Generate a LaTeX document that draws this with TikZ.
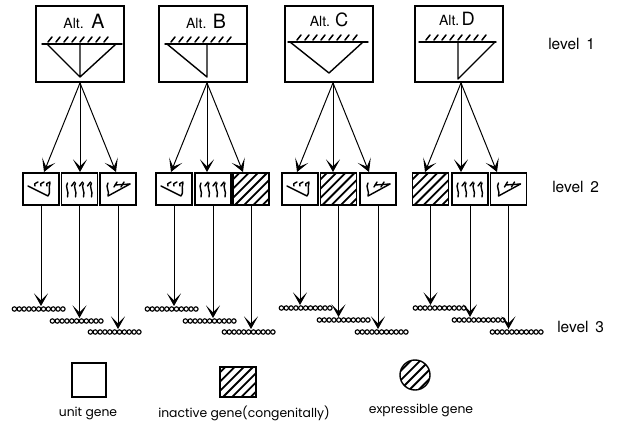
\documentclass[tikz,border=0pt]{standalone}
\usepackage{fontspec}
\setmainfont{TeX Gyre Heros}
\newfontfamily\legendfont{Poppins}
\usetikzlibrary{arrows.meta,calc}

\begin{document}
\begin{tikzpicture}[x=0.025cm,y=-0.025cm,
  altbox/.style={draw,line width=1.3pt,minimum width=2.2cm,minimum height=1.9cm,inner sep=0pt},
  genebox/.style={draw,line width=1.4pt,minimum width=0.9cm,minimum height=0.8cm,inner sep=0pt},
  hatched/.style={path picture={\foreach \k in {-12,...,12}{\draw[line width=1.3pt] ([xshift=\k*0.23cm]path picture bounding box.center) ++(-1.5cm,-1.5cm) -- ++(3cm,3cm);}}},
  arr/.style={line width=0.7pt,-{Stealth[length=9pt,width=10pt,inset=5pt]}},
  thin/.style={line width=1pt,line cap=round,line join=round},
  gl/.style={line width=1pt,line cap=round,line join=round},
  altlabel/.style={font=\fontsize{10}{11}\selectfont,inner sep=0pt},
  levellabel/.style={font=\fontsize{11}{13}\selectfont,anchor=west,inner sep=0pt},
  legendlabel/.style={font=\legendfont\fontsize{8.8}{10}\selectfont,inner sep=0pt},
  ticks/.pic={\foreach \t in {-32,-24,...,28}{\draw[line width=1.1pt,line cap=round] (\t,-1) -- ++(4,-5);}},
  glyphL/.pic={
    \draw[gl] (-13,-3) -- (7,7) .. controls (10,4) and (7,-1) .. (9,-6);
    \foreach \t in {-6,0,6}{\draw[gl] (\t,-3) .. controls (\t-1,-5) .. (\t+3,-7);}
  },
  glyphM/.pic={
    \foreach \t in {-12,-4,4,12}{\draw[gl] (\t,-6) .. controls (\t-3,-2) and (\t+2,2) .. (\t,8);}
    \foreach \t in {-8,0,8}{\draw[gl] (\t,-3) -- (\t+3,-7);}
  },
  glyphR/.pic={
    \draw[gl] (-10,-6) .. controls (-13,-2) and (-8,2) .. (-10,7) -- (12,-5);
    \draw[gl] (-3,-4) -- (12,-5);
    \foreach \t in {-4,3}{\draw[gl] (\t,-2) -- (\t+3,-7);}
  },
  chain/.pic={\foreach \i in {0,...,10}{\draw[line width=0.8pt] (2.4+\i*4.85,0) circle[radius=0.055cm];}}
]
\useasboundingbox (0,0) rectangle (626,421);
\fill[white] (0,0) rectangle (626,421);

% level 1: the four alternatives
\node[altbox] (LA) at (80,44) {};
\node[altbox] (LB) at (203,44) {};
\node[altbox] (LC) at (329,44) {};
\node[altbox] (LD) at (459,44) {};
\node[altlabel] at (84,21) {Alt.\hspace{0.55em}{\fontsize{14}{14}\selectfont A}};
\node[altlabel] at (206,21) {Alt.\hspace{0.45em}{\fontsize{14}{14}\selectfont B}};
\node[altlabel] at (329,20) {Alt.\hspace{0.35em}{\fontsize{13}{13}\selectfont C}};
\node[altlabel] at (457,19) {Alt.\,{\fontsize{13}{13}\selectfont D}};

% hatched lines with the triangles below them
\draw[thin] (42,44) -- (122,44);
\pic at (80,43) {ticks};
\draw[thin] (47,44) -- (80,77) -- (116,44) (80,44) -- (80,77);

\draw[thin] (165,44) -- (246,44);
\pic at (203,43) {ticks};
\draw[thin] (167,44) -- (207,77) -- (207,44);

\draw[thin] (288,42) -- (368,42);
\pic at (329,41) {ticks};
\draw[thin] (290,42) -- (329,73) -- (363,42);

\draw[thin] (419,42) -- (496,42);
\pic at (458,41) {ticks};
\draw[thin] (458,42) -- (458,79) -- (495,42);

% level 2: gene boxes
\node[genebox] (A1) at (41,189) {};
\node[genebox] (A2) at (79.5,189) {};
\node[genebox] (A3) at (118,189) {};
\node[genebox] (B1) at (174,189) {};
\node[genebox] (B2) at (213,189) {};
\node[genebox,hatched] (B3) at (251,189) {};
\node[genebox] (C1) at (300,189) {};
\node[genebox,hatched] (C2) at (338.5,189) {};
\node[genebox] (C3) at (378,189) {};
\node[genebox,hatched] (D1) at (430.5,189) {};
\node[genebox] (D2) at (470,189) {};
\node[genebox] (D3) at (508.5,189) {};
\pic at (A1) {glyphL};
\pic at (A2) {glyphM};
\pic at (A3) {glyphR};
\pic at (B1) {glyphL};
\pic at (B2) {glyphM};
\pic at (C1) {glyphL};
\pic at (C3) {glyphR};
\pic at (D2) {glyphM};
\pic at (D3) {glyphR};

% fan-out arrows from level 1 to level 2
\coordinate (oA) at (LA.south);
\coordinate (oB) at ([xshift=0.1cm]LB.south);
\coordinate (oC) at ([xshift=0.1cm]LC.south);
\coordinate (oD) at ([xshift=0.05cm]LD.south);
\foreach \o/\a/\b/\c in {oA/A1/A2/A3,oB/B1/B2/B3,oC/C1/C2/C3,oD/D1/D2/D3}{
  \draw[arr] (\o) -- ($(\o |- \a.north)+(-36,0)$);
  \draw[arr] (\o) -- (\o |- \b.north);
  \draw[arr] (\o) -- ($(\o |- \c.north)+(36,0)$);
}

% level 3: expressed chains
\foreach \n/\x/\y in {A1/12/309,A2/50/321,A3/88/332,B1/145/309,B2/183/321,B3/222/332,
                      C1/279/308,C2/317/320,C3/355/332,D1/413/308,D2/452/320,D3/490/332}{
  \pic at (\x,\y) {chain};
  \coordinate (c\n) at (\x,\y-3);
  \draw[arr] (\n.south) -- (\n.south |- c\n);
}

% level labels
\node[levellabel] at (548,44) {level\hspace{0.45em}1};
\node[levellabel] at (552,187) {level\hspace{0.45em}2};
\node[levellabel] at (557,327) {level\hspace{0.45em}3};

% legend
\node[draw,line width=1.2pt,minimum width=0.85cm,minimum height=0.85cm,inner sep=0pt] (unit) at (89,380) {};
\node[legendlabel] at (88,413) {unit gene};
\node[draw,line width=1.2pt,minimum width=0.9cm,minimum height=0.75cm,inner sep=0pt,hatched] (inact) at (238,382) {};
\node[legendlabel] at (244,413) {inactive gene(congenitally)};
\node[draw,line width=1pt,circle,minimum size=0.75cm,inner sep=0pt,hatched] (expr) at (415,375) {};
\node[legendlabel] at (421,410) {expressible gene};
\end{tikzpicture}
\end{document}
